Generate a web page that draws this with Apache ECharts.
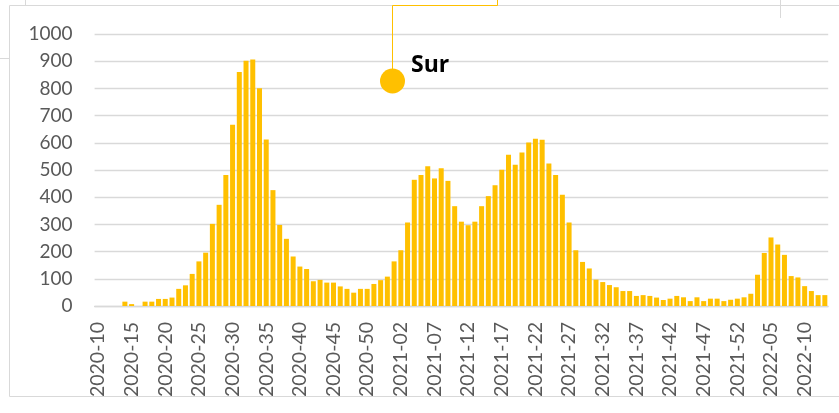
<!DOCTYPE html>
<html>
<head>
<meta charset="utf-8">
<script src="https://cdn.jsdelivr.net/npm/echarts@6/dist/echarts.min.js"></script>
<style>
  html, body { margin: 0; padding: 0; background: #fff; }
  #main { width: 839px; height: 413px; }
</style>
</head>
<body>
<div id="main"></div>
<script>
// semaines ISO, de 2020-10 a 2022-13
var weeks2020 = ['2020-10','2020-11','2020-12','2020-13','2020-14','2020-15','2020-16','2020-17','2020-18','2020-19',
  '2020-20','2020-21','2020-22','2020-23','2020-24','2020-25','2020-26','2020-27','2020-28','2020-29',
  '2020-30','2020-31','2020-32','2020-33','2020-34','2020-35','2020-36','2020-37','2020-38','2020-39',
  '2020-40','2020-41','2020-42','2020-43','2020-44','2020-45','2020-46','2020-47','2020-48','2020-49',
  '2020-50','2020-51','2020-52','2020-53'];
var weeks2021 = ['2021-01','2021-02','2021-03','2021-04','2021-05','2021-06','2021-07','2021-08','2021-09','2021-10',
  '2021-11','2021-12','2021-13','2021-14','2021-15','2021-16','2021-17','2021-18','2021-19','2021-20',
  '2021-21','2021-22','2021-23','2021-24','2021-25','2021-26','2021-27','2021-28','2021-29','2021-30',
  '2021-31','2021-32','2021-33','2021-34','2021-35','2021-36','2021-37','2021-38','2021-39','2021-40',
  '2021-41','2021-42','2021-43','2021-44','2021-45','2021-46','2021-47','2021-48','2021-49','2021-50',
  '2021-51','2021-52'];
var weeks2022 = ['2022-01','2022-02','2022-03','2022-04','2022-05','2022-06','2022-07','2022-08','2022-09','2022-10',
  '2022-11','2022-12','2022-13'];

var values2020 = [0, 0, 0, 0, 16, 7, 0, 16, 16, 26,
  26, 31, 63, 76, 118, 164, 196, 302, 372, 482,
  666, 860, 902, 906, 801, 612, 426, 298, 247, 182,
  145, 136, 91, 96, 86, 86, 72, 63, 49, 63,
  63, 81, 95, 108];
var values2021 = [164, 205, 307, 464, 482, 514, 469, 506, 460, 367,
  310, 297, 310, 367, 404, 444, 501, 556, 519, 564,
  601, 615, 611, 524, 482, 409, 307, 205, 162, 138,
  97, 88, 77, 69, 55, 55, 37, 40, 37, 31,
  22, 27, 37, 32, 18, 32, 18, 27, 27, 18,
  23, 27];
var values2022 = [32, 45, 115, 195, 252, 226, 188, 110, 105, 73,
  55, 40, 40];

var yTicks = [0, 100, 200, 300, 400, 500, 600, 700, 800, 900, 1000];

var categories = weeks2020.concat(weeks2021, weeks2022);
var values = values2020.concat(values2021, values2022);

var myChart = echarts.init(document.getElementById('main'));

var option = {
    animation: false,
    grid: {
        left: 94.6,
        right: 10.8,
        top: 34,
        bottom: 107,
        containLabel: false
    },
    xAxis: {
        type: 'category',
        data: categories,
        axisLine: { lineStyle: { color: '#d9d9d9', width: 1.3 } },
        axisTick: { show: false },
        axisLabel: {
            interval: 4,
            rotate: 90,
            margin: 16,
            color: '#595959',
            fontFamily: 'Lato',
            fontSize: 19.5
        }
    },
    yAxis: {
        type: 'value',
        min: yTicks[0],
        max: yTicks[yTicks.length - 1],
        interval: 100,
        axisLine: { show: false },
        axisTick: { show: false },
        axisLabel: {
            margin: 22,
            color: '#595959',
            fontFamily: 'Lato',
            fontSize: 19,
            formatter: function (v) { return String(v); }
        },
        splitLine: { lineStyle: { color: '#d9d9d9', width: 1.3 } }
    },
    series: [{
        name: 'Sur',
        type: 'bar',
        data: values,
        barWidth: 5,
        itemStyle: {
            color: '#ffc000'
        }
    }],
    graphic: [
        // cadre de la zone du graphique
        { type: 'rect', shape: { x: 9.5, y: 5.5, width: 900, height: 391 },
          style: { fill: null, stroke: '#d9d9d9', lineWidth: 1 }, z: -1 },
        { type: 'line', shape: { x1: 0, y1: 58.5, x2: 9, y2: 58.5 },
          style: { stroke: '#d9d9d9', lineWidth: 1 } },
        { type: 'line', shape: { x1: 25.5, y1: 0, x2: 25.5, y2: 5 },
          style: { stroke: '#d9d9d9', lineWidth: 1 } },
        { type: 'line', shape: { x1: 780.5, y1: 0, x2: 780.5, y2: 18 },
          style: { stroke: '#d9d9d9', lineWidth: 1 } },
        // etiquette de legende
        { type: 'polyline', shape: { points: [[497.5, 0], [497.5, 5.5], [392.5, 5.5], [392.5, 81]] },
          style: { fill: null, stroke: '#ffc000', lineWidth: 1 }, z: 10 },
        { type: 'circle', shape: { cx: 392.5, cy: 81, r: 12.5 },
          style: { fill: '#ffc000' }, z: 10 },
        { type: 'text', x: 411, y: 65,
          style: { text: 'Sur', fill: '#000', font: 'bold 23px "Open Sans"', verticalAlign: 'middle' }, z: 10 }
    ]
};

myChart.setOption(option);
</script>
</body>
</html>
